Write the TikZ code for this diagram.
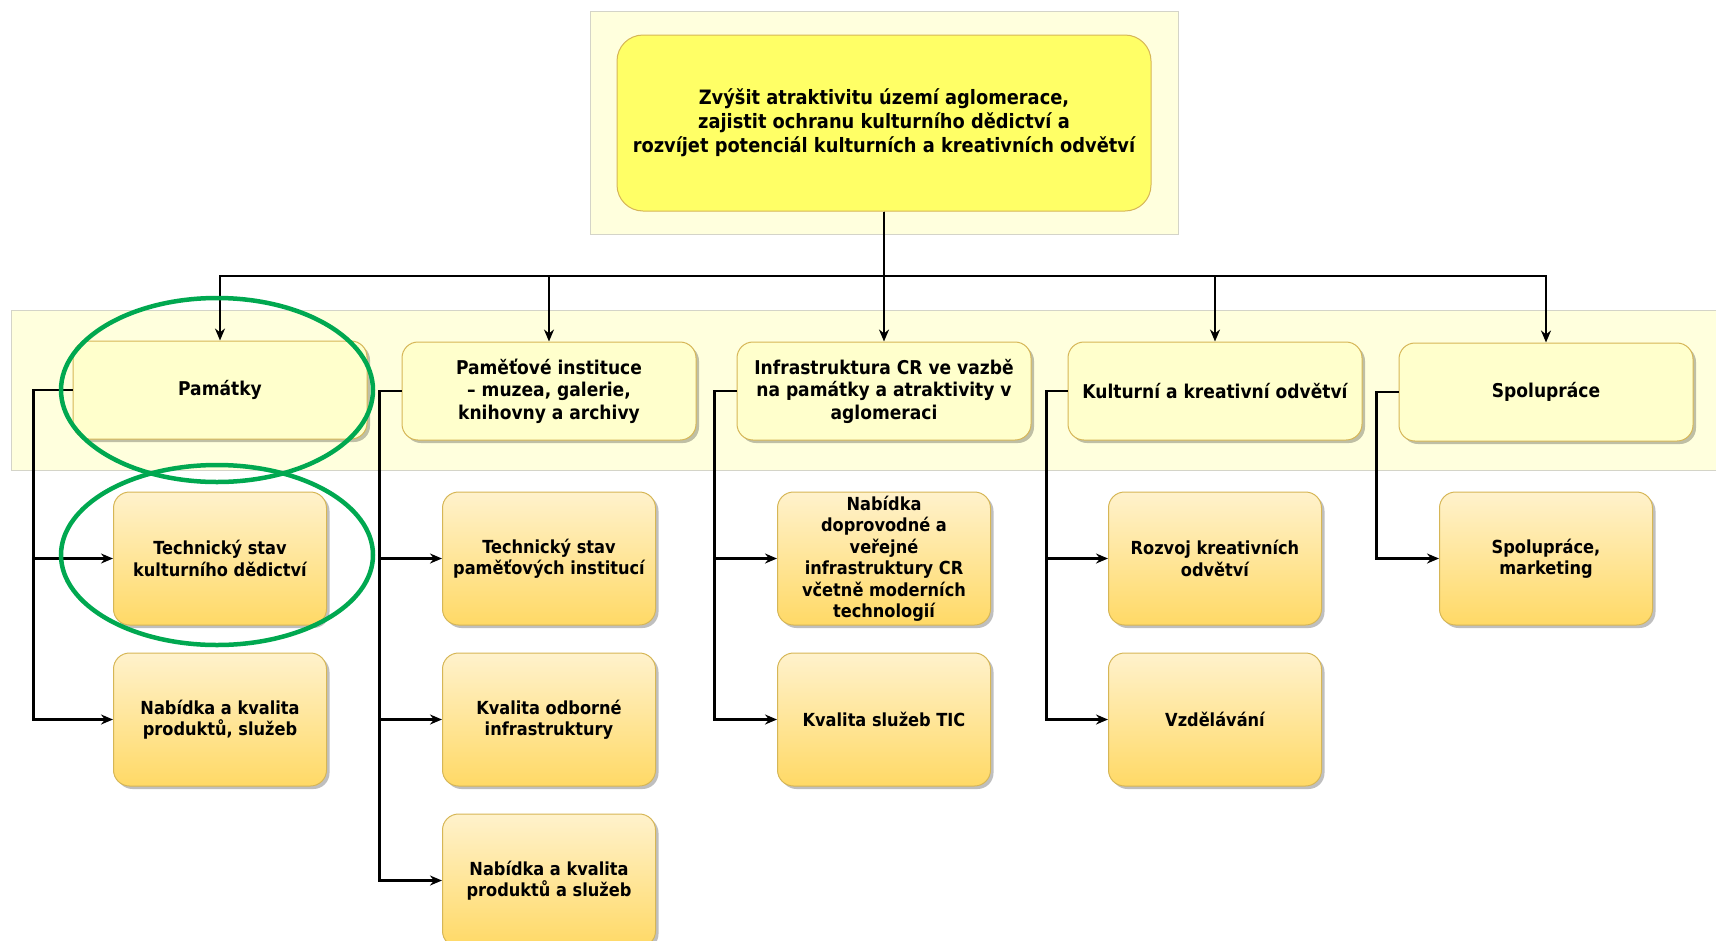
\documentclass[tikz,border=0pt]{standalone}
\usepackage{fontspec}
\setmainfont{DejaVu Sans Condensed}
\usepackage{tikz}
\usetikzlibrary{arrows.meta,shapes,positioning,shadows}
\usepackage{xcolor}
\definecolor{dfpale}{RGB}{255,255,221}
\definecolor{dfpaleline}{RGB}{212,212,200}
\definecolor{dfgoal}{RGB}{255,255,102}
\definecolor{dfgold}{RGB}{214,182,86}
\definecolor{dfcat}{RGB}{255,255,204}
\definecolor{dftop}{RGB}{255,242,204}
\definecolor{dfbottom}{RGB}{255,217,102}
\definecolor{dfring}{RGB}{0,168,80}
\tikzstyle{arrow} = [line width=2.2pt,-{Stealth[length=12pt,width=10pt]},color=black]
\tikzstyle{bgbox} = [draw=dfpaleline, fill=dfpale, line width=1pt]
\tikzstyle{goalnode} = [rectangle, rounded corners=26pt, minimum width=534pt, minimum height=176pt, text centered, align=center, draw=dfgold, fill=dfgoal, line width=1pt, font=\fontsize{19.8}{24}\selectfont\bfseries]
\tikzstyle{catnode} = [rectangle, rounded corners=16pt, minimum width=294pt, minimum height=98pt, text centered, align=center, draw=dfgold, fill=dfcat, line width=1pt, drop shadow={shadow xshift=3pt, shadow yshift=-3pt, fill=black, opacity=0.25}, font=\fontsize{19}{22.5}\selectfont\bfseries]
\tikzstyle{subnode} = [rectangle, rounded corners=16pt, minimum width=213pt, minimum height=133pt, text centered, align=center, draw=dfgold, top color=dftop, bottom color=dfbottom, line width=1pt, drop shadow={shadow xshift=3pt, shadow yshift=-3pt, fill=black, opacity=0.25}, font=\fontsize{18}{21.5}\selectfont\bfseries]
\tikzstyle{ring} = [draw=dfring, line width=4.5pt]

\begin{document}
\begin{tikzpicture}[x=1pt, y=-1pt, node distance=27pt]
\useasboundingbox (0,0) rectangle (1716,940);
% Backgrounds
\draw[bgbox] (590,11) rectangle (1178,234);
\draw[bgbox] (11,310) rectangle (1722,470);

% Goal
\node[goalnode] (goal) at (884,123) {Zvýšit atraktivitu území aglomerace,\\zajistit ochranu kulturního dědictví a\\rozvíjet potenciál kulturních a kreativních odvětví};
\coordinate (bus) at (884,276);

% Categories
\node[catnode] (pam) at (220,390) {Památky};
\node[catnode] (pmi) at (549,391) {Paměťové instituce\\– muzea, galerie,\\knihovny a archivy};
\node[catnode] (infra) at (884,391) {Infrastruktura CR ve vazbě\\na památky a atraktivity v\\aglomeraci};
\node[catnode] (kult) at (1215,391) {Kulturní a kreativní odvětví};
\node[catnode] (spol) at (1546,392) {Spolupráce};

% Sub-items
\node[subnode, below=52pt of pam] (pam1) {Technický stav\\kulturního dědictví};
\node[subnode, below=27pt of pam1] (pam2) {Nabídka a kvalita\\produktů, služeb};
\node[subnode, below=51pt of pmi] (pmi1) {Technický stav\\paměťových institucí};
\node[subnode, below=27pt of pmi1] (pmi2) {Kvalita odborné\\infrastruktury};
\node[subnode, below=27pt of pmi2] (pmi3) {Nabídka a kvalita\\produktů a služeb};
\node[subnode, below=51pt of infra] (infra1) {Nabídka\\doprovodné a\\veřejné\\infrastruktury CR\\včetně moderních\\technologií};
\node[subnode, below=27pt of infra1] (infra2) {Kvalita služeb TIC};
\node[subnode, below=51pt of kult] (kult1) {Rozvoj kreativních\\odvětví};
\node[subnode, below=27pt of kult1] (kult2) {Vzdělávání};
\node[subnode, below=50pt of spol] (spol1) {Spolupráce,\\marketing};

% Goal to categories
\draw[arrow] (goal.south) -- (bus) -| (pam.north);
\draw[arrow] (goal.south) -- (bus) -| (pmi.north);
\draw[arrow] (goal.south) -- (infra.north);
\draw[arrow] (goal.south) -- (bus) -| (kult.north);
\draw[arrow] (goal.south) -- (bus) -| (spol.north);

% Categories to sub-items
\draw[arrow] (pam.west) -- ++(-39,0) |- (pam1.west);
\draw[arrow] (pam.west) -- ++(-39,0) |- (pam2.west);
\draw[arrow] (pmi.west) -- ++(-22,0) |- (pmi1.west);
\draw[arrow] (pmi.west) -- ++(-22,0) |- (pmi2.west);
\draw[arrow] (pmi.west) -- ++(-22,0) |- (pmi3.west);
\draw[arrow] (infra.west) -- ++(-22,0) |- (infra1.west);
\draw[arrow] (infra.west) -- ++(-22,0) |- (infra2.west);
\draw[arrow] (kult.west) -- ++(-21,0) |- (kult1.west);
\draw[arrow] (kult.west) -- ++(-21,0) |- (kult2.west);
\draw[arrow] (spol.west) -- ++(-22,0) |- (spol1.west);

% Highlights
\draw[ring] (217,390) ellipse [x radius=156, y radius=92];
\draw[ring] (217,555) ellipse [x radius=156, y radius=90];
\end{tikzpicture}
\end{document}
